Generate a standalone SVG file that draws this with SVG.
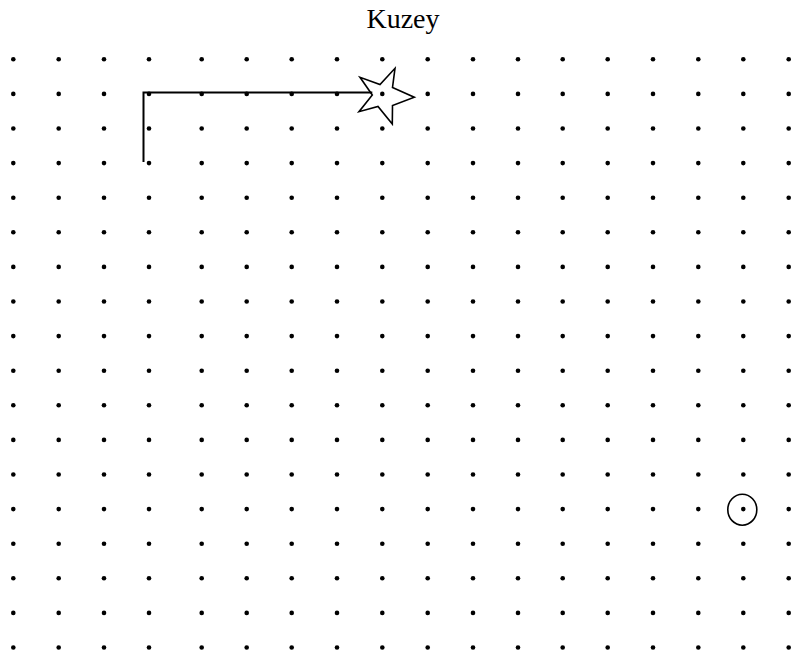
<svg xmlns="http://www.w3.org/2000/svg" xmlns:xlink="http://www.w3.org/1999/xlink" width="792" height="658" viewBox="0 0 792 658">
<style>
.dot{fill:#000}
.ln{fill:none;stroke:#000;stroke-width:2}
.shape{fill:none;stroke:#000;stroke-width:1.6;stroke-linejoin:miter}
.title{font-family:"Liberation Serif","Times New Roman",serif;font-size:28px;fill:#000}
</style>
<defs>
<g id="row">
<circle class="dot" cx="13.3" cy="0" r="2.3"/>
<circle class="dot" cx="58.7" cy="0" r="2.3"/>
<circle class="dot" cx="104" cy="0" r="2.3"/>
<circle class="dot" cx="149" cy="0" r="2.3"/>
<circle class="dot" cx="201.7" cy="0" r="2.3"/>
<circle class="dot" cx="246.7" cy="0" r="2.3"/>
<circle class="dot" cx="291.7" cy="0" r="2.3"/>
<circle class="dot" cx="337" cy="0" r="2.3"/>
<circle class="dot" cx="382.3" cy="0" r="2.3"/>
<circle class="dot" cx="427.7" cy="0" r="2.3"/>
<circle class="dot" cx="473" cy="0" r="2.3"/>
<circle class="dot" cx="518" cy="0" r="2.3"/>
<circle class="dot" cx="562.7" cy="0" r="2.3"/>
<circle class="dot" cx="607.7" cy="0" r="2.3"/>
<circle class="dot" cx="653" cy="0" r="2.3"/>
<circle class="dot" cx="698.3" cy="0" r="2.3"/>
<circle class="dot" cx="743.3" cy="0" r="2.3"/>
<circle class="dot" cx="788.7" cy="0" r="2.3"/>
</g>
</defs>
<rect width="792" height="658" fill="#fff"/>
<g id="grid">
<use xlink:href="#row" href="#row" y="59.3"/>
<use xlink:href="#row" href="#row" y="93.9"/>
<use xlink:href="#row" href="#row" y="128.5"/>
<use xlink:href="#row" href="#row" y="163.1"/>
<use xlink:href="#row" href="#row" y="197.7"/>
<use xlink:href="#row" href="#row" y="232.3"/>
<use xlink:href="#row" href="#row" y="266.9"/>
<use xlink:href="#row" href="#row" y="301.5"/>
<use xlink:href="#row" href="#row" y="336.1"/>
<use xlink:href="#row" href="#row" y="370.7"/>
<use xlink:href="#row" href="#row" y="405.3"/>
<use xlink:href="#row" href="#row" y="439.9"/>
<use xlink:href="#row" href="#row" y="474.5"/>
<use xlink:href="#row" href="#row" y="509.1"/>
<use xlink:href="#row" href="#row" y="543.7"/>
<use xlink:href="#row" href="#row" y="578.3"/>
<use xlink:href="#row" href="#row" y="612.9"/>
<use xlink:href="#row" href="#row" y="647.5"/>
</g>
<g id="title">
<text class="title" x="403" y="28.3" text-anchor="middle">Kuzey</text>
</g>
<g id="connectors">
<path class="ln" d="M143.5,162 V92.5 H372.3"/>
</g>
<g id="star">
<polygon class="shape" points="395,68.3 392.5,87.5 414.3,97.3 392.5,105.5 392.3,124 378,106.5 359,111.7 372.3,95 360,77.3 380,84.5"/>
</g>
<g id="target">
<ellipse class="shape" cx="742.3" cy="509.7" rx="14.5" ry="15.5"/>
</g>
</svg>
